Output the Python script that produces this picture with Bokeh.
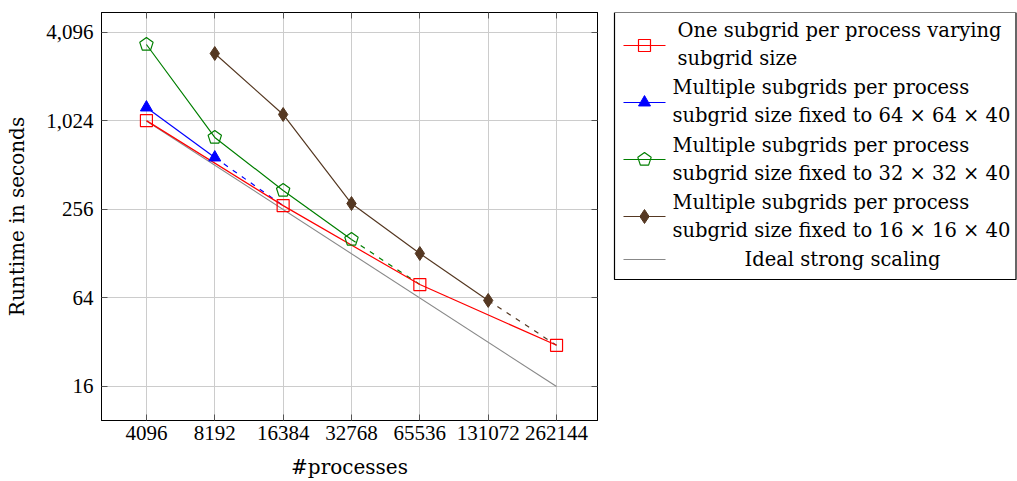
import numpy as np
from bokeh.plotting import figure
from bokeh.models import FixedTicker, NumeralTickFormatter, LogAxis, Range1d
from bokeh.layouts import row
from bokeh.embed import file_html
from bokeh.resources import INLINE
from bokeh.core.properties import value

# ---- data ----
procs_red = [4096, 16384, 65536, 262144]
time_red = [1030, 272, 79, 30.5]
procs_blue = [4096, 8192]
time_blue = [1265, 578]
procs_green = [4096, 8192, 16384, 32768]
time_green = [3395, 791, 345, 160]
procs_brown = [8192, 16384, 32768, 65536, 131072]
time_brown = [2947, 1134, 281, 128.5, 61.6]
procs_ideal = [4096, 262144]
time_ideal = [1024, 16]
x_ticks = [4096, 8192, 16384, 32768, 65536, 131072, 262144]
y_ticks = [16, 64, 256, 1024, 4096]
legend_lines = [
    ["One subgrid per process varying", "subgrid size"],
    ["Multiple subgrids per process", "subgrid size fixed to 64 \u00d7 64 \u00d7 40"],
    ["Multiple subgrids per process", "subgrid size fixed to 32 \u00d7 32 \u00d7 40"],
    ["Multiple subgrids per process", "subgrid size fixed to 16 \u00d7 16 \u00d7 40"],
    ["Ideal strong scaling"],
]

RED = "#ff0000"
BLUE = "#0000ff"
GREEN = "#007f00"
BROWN = "#553822"
GRAY = "#888888"
TXT_FONT = "DejaVu Serif"
NUM_FONT = "Liberation Serif"

red_lookup = dict(zip(procs_red, time_red))


def dashed_to_red(px, py):
    nx = px[-1] * 2
    return [px[-1], nx], [py[-1], red_lookup[nx]]


p = figure(width=605, height=481, x_axis_type="log", y_axis_type="log",
           x_range=Range1d(2597, 397100), y_range=Range1d(9.39, 5603),
           output_backend="svg", toolbar_location=None,
           min_border_left=101, min_border_right=8, min_border_top=12, min_border_bottom=61)

p.xaxis.ticker = FixedTicker(ticks=x_ticks)
p.yaxis.ticker = FixedTicker(ticks=y_ticks)
p.xaxis.formatter = NumeralTickFormatter(format="0")
p.yaxis.formatter = NumeralTickFormatter(format="0,0")
p.axis.major_label_text_font = NUM_FONT
p.axis.major_label_text_font_size = "21px"
p.axis.major_label_text_color = "black"
p.axis.major_tick_in = 6
p.axis.major_tick_out = 0
p.axis.major_tick_line_color = "#555555"
p.axis.minor_tick_line_color = None
p.axis.axis_line_color = "black"
p.axis.axis_label_text_font = TXT_FONT
p.axis.axis_label_text_font_size = "20px"
p.axis.axis_label_text_font_style = "normal"
p.axis.axis_label_text_color = "black"
p.xaxis.axis_label = "#processes"
p.yaxis.axis_label = "Runtime in seconds"
p.xaxis.major_label_standoff = 5
p.yaxis.major_label_standoff = 8
p.xaxis.axis_label_standoff = 12
p.yaxis.axis_label_standoff = 14
p.grid.grid_line_color = "#cccccc"
p.grid.grid_line_width = 1
p.outline_line_color = "black"

for loc, tk in (("right", y_ticks), ("above", x_ticks)):
    ax = LogAxis(ticker=FixedTicker(ticks=tk), major_label_overrides={t: "" for t in tk},
                 major_tick_in=6, major_tick_out=0, major_tick_line_color="#555555",
                 minor_tick_line_color=None, axis_line_color="black", major_label_standoff=0)
    p.add_layout(ax, loc)

# ideal
p.line(procs_ideal, time_ideal, line_color=GRAY, line_width=1.1)

# dashed continuations
for px, py, c in ((procs_blue, time_blue, BLUE), (procs_green, time_green, GREEN),
                  (procs_brown, time_brown, BROWN)):
    dx, dy = dashed_to_red(px, py)
    p.line(dx, dy, line_color=c, line_width=1.2, line_dash="5 6")

p.line(procs_red, time_red, line_color=RED, line_width=1.2)
p.line(procs_blue, time_blue, line_color=BLUE, line_width=1.2)
p.line(procs_green, time_green, line_color=GREEN, line_width=1.2)
p.line(procs_brown, time_brown, line_color=BROWN, line_width=1.2)

p.scatter(procs_red, time_red, marker="square", size=12, fill_color=None, line_color=RED, line_width=1.2)
p.scatter(procs_blue, time_blue, marker="triangle", size=12, fill_color=BLUE, line_color=BLUE)
p.ngon(x=procs_green, y=time_green, radius=7, radius_units="screen", n=5,
       fill_color=None, line_color=GREEN, line_width=1.2)
p.scatter(procs_brown, time_brown, marker="diamond", size=14, fill_color=BROWN, line_color=BROWN)

# ---- legend figure (page-pixel coordinates, frame aligned with main frame) ----
leg = figure(title=None, frame_width=412, frame_height=408, x_range=Range1d(605, 1017),
             y_range=Range1d(420, 12), output_backend="svg", toolbar_location=None,
             min_border_top=12, min_border_bottom=61, min_border_left=0, min_border_right=0,
             x_axis_location=None, y_axis_location=None)
leg.grid.visible = False
leg.outline_line_color = None
leg.quad(left=[614], right=[1015.5], top=[12], bottom=[279],
         fill_color="white", line_color="black", line_width=1.2)

colors = [RED, BLUE, GREEN, BROWN, GRAY]
first_y = [30, 87, 145, 202, 259]
marker_y = [45, 102, 159, 216, 259]
text_x = [677, 672, 672, 672, 842]
leg.segment(x0=[623] * 5, x1=[665] * 5, y0=marker_y, y1=marker_y,
            line_color=colors, line_width=1.2)
mx = 644
leg.scatter([mx], [marker_y[0]], marker="square", size=12, fill_color=None, line_color=RED, line_width=1.2)
leg.scatter([mx], [marker_y[1]], marker="triangle", size=12, fill_color=BLUE, line_color=BLUE)
leg.ngon(x=[mx], y=[marker_y[2]], radius=7, radius_units="screen", n=5,
         fill_color=None, line_color=GREEN, line_width=1.2)
leg.scatter([mx], [marker_y[3]], marker="diamond", size=14, fill_color=BROWN, line_color=BROWN)

tx, ty, tt, ta = [], [], [], []
for i, lines in enumerate(legend_lines):
    for j, s in enumerate(lines):
        tx.append(text_x[i])
        ty.append(first_y[i] + 28 * j)
        tt.append(s)
        ta.append("center" if len(lines) == 1 else "left")
leg.text(x=tx, y=ty, text=tt, text_align=ta, text_baseline="middle",
         text_font=value(TXT_FONT), text_font_size="19.5px", text_color="black")

layout = row(p, leg)
with open("out.html", "w") as f:
    f.write(file_html(layout, INLINE))
